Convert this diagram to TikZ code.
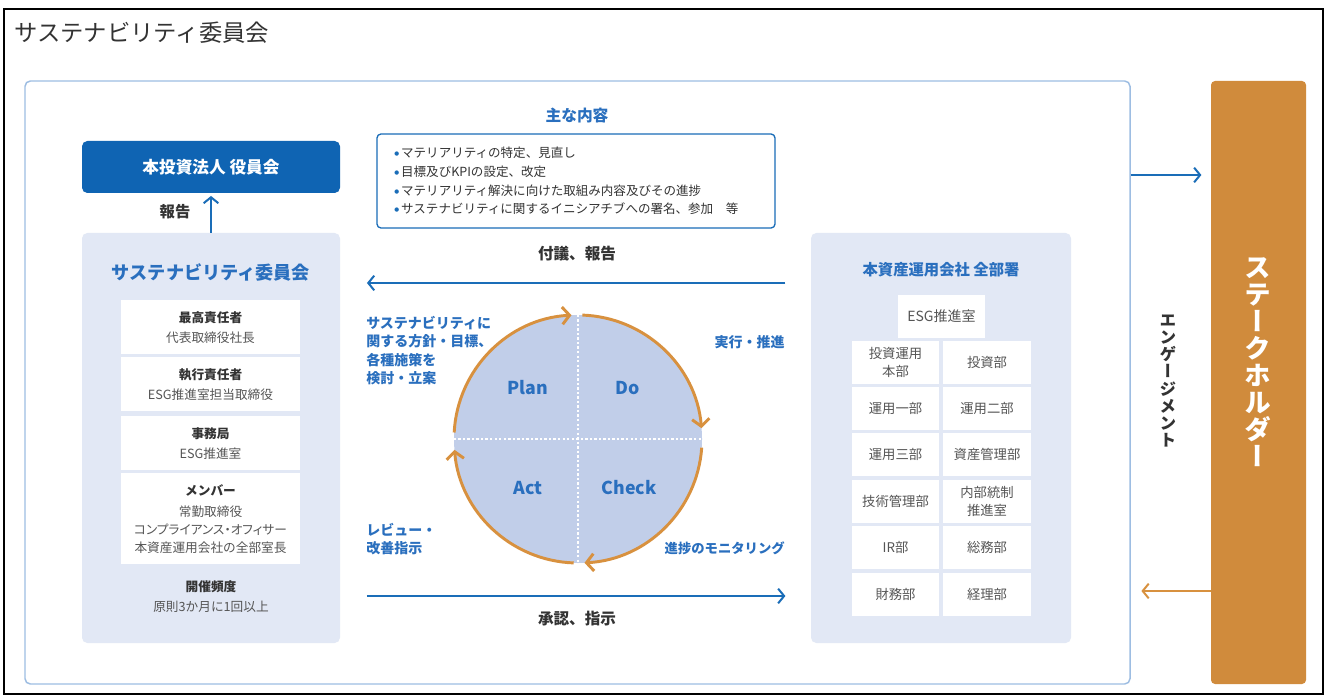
\documentclass[tikz,border=0pt]{standalone}
\usepackage{fontspec}
\setmainfont{Noto Sans CJK JP}
\newfontfamily\vjp{Noto Sans CJK JP}[RawFeature=+vert]
\newfontfamily\jpp{Noto Sans CJK JP}[RawFeature=+palt]
\newfontfamily\dejavu{DejaVu Sans}
\usetikzlibrary{arrows.meta,calc,fit}
\definecolor{bluec}{HTML}{1A6DB8}
\definecolor{bluet}{HTML}{2A6FBE}
\definecolor{boardc}{HTML}{0F64B3}
\definecolor{panelc}{HTML}{E2E8F5}
\definecolor{framec}{HTML}{9DBDE2}
\definecolor{circc}{HTML}{C1CEE9}
\definecolor{orangea}{HTML}{D8913F}
\definecolor{stakec}{HTML}{D08B3C}
\definecolor{dark}{HTML}{333333}
\definecolor{gtext}{HTML}{555555}
\newcommand\fsz[2]{\fontsize{#1}{#2}\selectfont}
\newcommand\bul{\raisebox{0.3ex}{\dejavu\fontsize{4.2}{5}\selectfont\color{bluec}●}\hspace{1.5pt}}
\tikzset{
  txt/.style={inner sep=0pt, text=dark},
  panel/.style={fill=panelc, rounded corners=4pt, inner sep=0pt},
  wbox/.style={fill=white, inner sep=0pt},
  rowtxt/.style={inner sep=0pt, align=center, font=\fsz{9.5}{15}, text=gtext},
  celltxt/.style={inner sep=0pt, align=center, font=\fsz{10}{13}, text=gtext},
  barrow/.style={draw=bluec, line width=1.5pt, -{Straight Barb[length=4.5pt,width=11pt]}},
  oarrow/.style={draw=orangea, line width=1.5pt, -{Straight Barb[length=4.5pt,width=11pt]}},
  oarc/.style={draw=orangea, line width=2.2pt, -{Straight Barb[length=5.5pt,width=13pt]}},
  dotline/.style={draw=white, line width=2pt, dash pattern=on 1.8pt off 1.6pt},
  bluelbl/.style={inner sep=0pt, text=bluet, font=\bfseries\fsz{10.5}{13.7}},
  pdca/.style={inner sep=0pt, text=bluet, font=\bfseries\fsz{13.3}{16}},
}
\begin{document}
\begin{tikzpicture}[x=0.75pt,y=0.75pt]
\useasboundingbox (0,0) rectangle (1330,-698);
\fill[white] (0,0) rectangle (1330,-698);
\draw[black, line width=1.5pt] (4,-9) rectangle (1323,-694);

\node[txt, anchor=west, font=\fsz{17.5}{20}] (title) at (14,-33) {サステナビリティ委員会};

% main frame
\node[fit={(25,-81) (1130,-684)}, inner sep=0pt, draw=framec, line width=1.1pt, rounded corners=4pt] (frame) {};

% stakeholder
\node[fit={(1211,-81) (1306,-684)}, inner sep=0pt, fill=stakec, rounded corners=3pt] (stake) {};
\node[inner sep=0pt, text=white, align=center, font=\vjp\bfseries\fsz{20}{20.2}] (stxt) at (1258,-362) {ス\\テ\\ー\\ク\\ホ\\ル\\ダ\\ー};
\node[inner sep=0pt, text=dark, align=center, font=\vjp\bfseries\fsz{12.5}{12.9}] (eng) at (1168,-381) {エ\\ン\\ゲ\\ー\\ジ\\メ\\ン\\ト};
\coordinate (ya) at (0,-175);
\coordinate (yb) at (0,-591);
\draw[barrow, shorten >=7pt] (frame.east |- ya) -- (stake.west |- ya);
\draw[oarrow, shorten >=8pt] (stake.west |- yb) -- (frame.east |- yb);

% board
\node[fit={(82,-141) (340,-193)}, inner sep=0pt, fill=boardc, rounded corners=4pt] (board) {};
\node[inner sep=0pt, text=white, font=\bfseries\fsz{12.5}{15}] (boardtxt) at (board.center) {本投資法人 役員会};

% left panel
\node[fit={(82,-233) (340,-643)}, panel] (sus) {};
\draw[barrow, shorten >=2pt] (sus.north) -- (board.south);
\node[txt, font=\bfseries\fsz{11.5}{14}] (hokoku) at (175,-212) {報告};
\node[inner sep=0pt, text=bluet, font=\bfseries\fsz{13.6}{16}] (sustitle) at (211,-272) {サステナビリティ委員会};

\node[fit={(121,-300) (300,-354)}, wbox] (r1) {};
\node[fit={(121,-357) (300,-411)}, wbox] (r2) {};
\node[fit={(121,-416) (300,-470)}, wbox] (r3) {};
\node[fit={(121,-473) (300,-564)}, wbox] (r4) {};
\node[rowtxt] (r1t) at ([yshift=-0.5pt]r1.center) {{\bfseries\color{dark}最高責任者}\\代表取締役社長};
\node[rowtxt] (r2t) at ([yshift=-0.5pt]r2.center) {{\bfseries\color{dark}執行責任者}\\ESG推進室担当取締役};
\node[rowtxt] (r3t) at ([yshift=-0.5pt]r3.center) {{\bfseries\color{dark}事務局}\\ESG推進室};
\node[rowtxt, font=\fsz{9.5}{13.5}] (r4t) at ([yshift=-0.5pt]r4.center) {{\bfseries\color{dark}メンバー}\\[2pt]常勤取締役\\{\jpp コンプライアンス・オフィサー}\\本資産運用会社の全部室長};
\node[rowtxt] (freq) at (211,-597) {{\bfseries\color{dark}開催頻度}\\原則3か月に1回以上};

% center top
\node[inner sep=0pt, text=bluet, font=\bfseries\fsz{11.8}{14}] (omo) at (577,-116) {主な内容};
\node[fit={(377,-134) (775,-228)}, inner sep=0pt, draw=bluec, line width=1pt, rounded corners=3pt] (content) {};
\node[txt, anchor=west, align=left, text=dark, font=\fsz{9.4}{14}] (items) at (394,-181)
{\bul マテリアリティの特定、見直し\\
\bul 目標及びKPIの設定、改定\\
\bul マテリアリティ解決に向けた取組み内容及びその進捗\\
\bul サステナビリティに関するイニシアチブへの署名、参加\quad 等};

% right panel
\node[fit={(811,-233) (1071,-643)}, panel] (dept) {};
\node[inner sep=0pt, text=bluet, font=\bfseries\fsz{11.5}{14}] (depttitle) at (941,-270) {本資産運用会社 全部署};
\node[fit={(898,-295) (985,-338)}, wbox] (esg) {};
\node[celltxt, font=\fsz{10.5}{13}] (esgt) at (esg.center) {ESG推進室};
\foreach \nm/\xa/\xb/\ya/\yb/\tx in {
  c1a/852/939/341/384/{投資運用\\本部}, c1b/943/1031/341/384/{投資部},
  c2a/852/939/387/430/{運用一部}, c2b/943/1031/387/430/{運用二部},
  c3a/852/939/433/476/{運用三部}, c3b/943/1031/433/476/{資産管理部},
  c4a/852/939/480/523/{技術管理部}, c4b/943/1031/480/523/{内部統制\\推進室},
  c5a/852/939/526/569/{IR部}, c5b/943/1031/526/569/{総務部},
  c6a/852/939/573/616/{財務部}, c6b/943/1031/573/616/{経理部}}{
  \node[fit={(\xa,-\ya) (\xb,-\yb)}, wbox] (\nm) {};
  \node[celltxt] (\nm t) at (\nm.center) {\tx};
}

% horizontal arrows
\coordinate (yc) at (0,-283);
\coordinate (yd) at (0,-596);
\draw[barrow, shorten <=19pt, shorten >=20pt] (dept.west |- yc) -- (sus.east |- yc);
\draw[barrow, shorten <=20pt, shorten >=19pt] (sus.east |- yd) -- (dept.west |- yd);
\node[txt, font=\bfseries\fsz{11.7}{14}] (fugi) at (577,-254) {付議、報告};
\node[txt, font=\bfseries\fsz{11.7}{14}] (shonin) at (577,-619) {承認、指示};

% PDCA circle
\node[circle, fill=circc, minimum size=186pt, inner sep=0pt] (cyc) at (578,-439) {};
\draw[dotline] (cyc.north) -- (cyc.south);
\draw[dotline] (cyc.west) -- (cyc.east);
\draw[oarc] ($(cyc.center)+(177:124)$) arc[start angle=177, end angle=93, radius=124];
\draw[oarc] ($(cyc.center)+(88:124)$) arc[start angle=88, end angle=5, radius=124];
\draw[oarc] ($(cyc.center)+(-4:124)$) arc[start angle=-4, end angle=-87, radius=124];
\draw[oarc] ($(cyc.center)+(-92:124)$) arc[start angle=-92, end angle=-175, radius=124];
\node[pdca] (plan) at (528,-388) {Plan};
\node[pdca] (do) at (628,-388) {Do};
\node[pdca] (act) at (528,-488) {Act};
\node[pdca] (check) at (629,-488) {Check};

\node[bluelbl, anchor=west, align=left] (lplan) at (366,-350.5) {サステナビリティに\\関する方針・目標、\\各種施策を\\検討・立案};
\node[bluelbl, anchor=east] (ldo) at (785,-342) {実行・推進};
\node[bluelbl, anchor=west, align=left] (lact) at (366,-539) {レビュー・\\改善指示};
\node[bluelbl, anchor=east, font=\bfseries\fsz{10}{13}] (lcheck) at (785,-548) {進捗のモニタリング};
\end{tikzpicture}
\end{document}
